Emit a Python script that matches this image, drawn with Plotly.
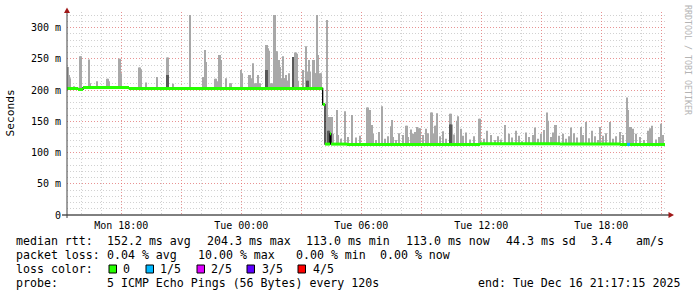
import numpy as np
import pandas as pd
import plotly.graph_objects as go

START = pd.Timestamp("2025-12-15 15:17:15")
END = pd.Timestamp("2025-12-16 21:17:15")

# ---- median rtt (ms) as steps; times = minutes after START ----
median_min = [0, 33, 48, 186, 767, 774, 789, 792, 840, 1239, 1479, 1659]
median_ms = [202.5, 201.0, 204.0, 202.5, 177.0, 113.5, 130.0, 113.5, 113.0, 114.0, 113.5, 113.0]
median_end_min = 1794
loss1_min = [1680, 1689]          # 1/5 packet loss interval

# ---- smoke (max rtt of the 5 pings, ms) ----
smoke_min = [0, 3, 6, 9, 21, 39, 42, 66, 69, 90, 120, 123, 126, 156, 159, 162, 216, 219, 222, 237,
             270, 300, 303, 318, 369, 408, 411, 414, 417, 444, 447, 450, 456, 459, 462, 477, 489, 492,
             522, 525, 546, 549, 552, 558, 564, 567, 573, 579, 597, 600, 603, 606, 612, 615, 621, 624,
             627, 630, 633, 636, 639, 645, 648, 651, 654, 657, 660, 663, 666, 678, 684, 687, 690, 693,
             708, 717, 720, 723, 726, 729, 738, 741, 744, 747, 750, 753, 759, 762,
             780, 783, 786, 789, 792, 795, 798, 810, 813, 822, 834, 843, 855, 867, 879, 900, 903, 906,
             909, 912, 915, 918, 927, 936, 945, 954, 963, 972, 975, 978, 987, 996, 1008, 1017, 1020,
             1023, 1032, 1038, 1044, 1050, 1056, 1059, 1068, 1077, 1083, 1092, 1095, 1098, 1104, 1107,
             1110, 1119, 1128, 1137, 1149, 1152, 1155, 1161, 1170, 1173, 1182, 1188, 1197, 1209, 1221,
             1236, 1239, 1251, 1260, 1272, 1284, 1293, 1302, 1314, 1326, 1335, 1347, 1356, 1365, 1377,
             1386, 1398, 1404, 1413, 1422, 1431, 1440, 1443, 1452, 1458, 1464, 1467, 1476, 1488, 1497,
             1506, 1512, 1521, 1530, 1542, 1548, 1557, 1566, 1575, 1584, 1593, 1599, 1608, 1617, 1629,
             1638, 1647, 1659, 1668, 1680, 1683, 1686, 1689, 1692, 1698, 1707, 1719, 1731, 1743, 1749,
             1755, 1767, 1776, 1782, 1788]
smoke_top = [237, 237, 224, 219, 206, 254, 254, 249, 211, 214, 218, 218, 214, 250, 250, 227, 236, 236, 233, 212,
             221, 252, 252, 210, 320, 221, 221, 264, 245, 218, 218, 214, 256, 256, 248, 219, 211, 211,
             232, 227, 224, 224, 219, 243, 211, 211, 224, 211, 272, 272, 267, 263, 211, 211, 320, 320,
             262, 262, 248, 248, 237, 219, 254, 219, 219, 224, 215, 215, 227, 253, 260, 260, 258, 215,
             232, 270, 229, 229, 248, 229, 248, 248, 227, 227, 320, 256, 227, 227,
             312, 157, 157, 157, 157, 157, 130, 168, 128, 122, 166, 125, 160, 124, 127, 172, 172, 168,
             168, 144, 144, 130, 120, 133, 174, 122, 126, 142, 152, 125, 120, 131, 128, 143, 143,
             125, 137, 130, 133, 141, 139, 139, 128, 138, 131, 164, 164, 130, 143, 143,
             163, 126, 134, 122, 162, 162, 145, 129, 151, 158, 138, 127, 132, 121, 126,
             154, 154, 122, 135, 128, 120, 126, 121, 144, 130, 124, 135, 127, 118, 132,
             125, 128, 140, 122, 130, 136, 164, 151, 125, 132, 144, 144, 127, 130, 122,
             126, 140, 131, 124, 141, 128, 149, 123, 135, 126, 120, 141, 127, 131, 149,
             122, 126, 133, 128, 188, 168, 141, 141, 141, 138, 130, 125, 120, 135, 139,
             143, 121, 125, 146, 128]
# denser (darker) part of the smoke
dark_min = [300, 303, 597, 600, 678, 720, 723, 783, 786, 1149, 1152]
dark_top = [224, 224, 232, 232, 253, 215, 215, 135, 135, 145, 145]

# ---- axis labels ----
ytick_vals = [0, 50, 100, 150, 200, 250, 300]
ytick_text = ["0", "50 m", "100 m", "150 m", "200 m", "250 m", "300 m"]
xtick_times = ["2025-12-15 18:00", "2025-12-15 21:00", "2025-12-16 00:00", "2025-12-16 03:00",
               "2025-12-16 06:00", "2025-12-16 09:00", "2025-12-16 12:00", "2025-12-16 15:00",
               "2025-12-16 18:00", "2025-12-16 21:00"]
xtick_text = ["Mon 18:00", "", "Tue 00:00", "", "Tue 06:00", "", "Tue 12:00", "", "Tue 18:00", ""]

loss_labels = ["0", "1/5", "2/5", "3/5", "4/5"]
loss_colors = ["#26ff00", "#00b8ff", "#dd00ff", "#5e00ff", "#ff0000"]

MONO = "DejaVu Sans Mono"


def t(m):
    return START + pd.to_timedelta(np.asarray(m, dtype=float), unit="m")


def med_at(m):
    idx = np.searchsorted(median_min, np.asarray(m), side="right") - 1
    return np.asarray(median_ms)[idx]


fig = go.Figure()

# smoke
sb = med_at(smoke_min)
fig.add_trace(go.Bar(x=t(smoke_min), base=sb, y=np.asarray(smoke_top) - sb,
                     width=3.3 * 60000, marker=dict(color="#a8a8a8", line=dict(width=0)),
                     showlegend=False, hoverinfo="skip"))
db = med_at(dark_min)
fig.add_trace(go.Bar(x=t(dark_min), base=db, y=np.asarray(dark_top) - db,
                     width=3.3 * 60000, marker=dict(color="#585858", line=dict(width=0)),
                     showlegend=False, hoverinfo="skip"))

# median: black step line (shows the vertical transitions)
mx = list(median_min) + [median_end_min]
my = list(median_ms) + [median_ms[-1]]
fig.add_trace(go.Scatter(x=t(mx), y=my, mode="lines", line=dict(color="#000000", width=1.3, shape="hv"),
                         showlegend=False, hoverinfo="skip"))
# median: green horizontal segments (0 loss)
gx, gy = [], []
for i in range(len(median_min)):
    a = median_min[i]
    b = median_min[i + 1] if i + 1 < len(median_min) else median_end_min
    gx += [a, b, None]
    gy += [median_ms[i], median_ms[i], None]
gxt = [None if v is None else START + pd.Timedelta(minutes=v) for v in gx]
fig.add_trace(go.Scatter(x=gxt, y=gy, mode="lines", line=dict(color=loss_colors[0], width=3),
                         connectgaps=False, showlegend=False, hoverinfo="skip"))
# 1/5 loss segment
fig.add_trace(go.Scatter(x=t(loss1_min), y=med_at(loss1_min), mode="lines",
                         line=dict(color=loss_colors[1], width=3), showlegend=False, hoverinfo="skip"))

W, H = 697, 297
L, R, T, B = 67, 667, 12, 215


def px(x):
    return (x - L) / (R - L)


def py(y):
    return (B - y) / (B - T)


grid_minor = "rgba(171,171,171,0.55)"
grid_major = "rgba(255,86,86,0.5)"

fig.update_layout(
    width=W, height=H, margin=dict(l=L, r=W - R, t=T, b=H - B),
    paper_bgcolor="#ffffff", plot_bgcolor="#ffffff",
    barmode="overlay", showlegend=False,
    font=dict(family=MONO, size=10, color="#000000"),
    xaxis=dict(type="date", range=[START, END], tickvals=xtick_times, ticktext=xtick_text,
               showgrid=True, gridcolor=grid_major, griddash="1px,2px", gridwidth=1,
               minor=dict(dtick=3600000, tick0="2025-12-15 16:00", showgrid=True,
                          gridcolor=grid_minor, griddash="1px,2px", gridwidth=1),
               showline=False, zeroline=False, ticks="", ticklabelstandoff=3,
               tickfont=dict(family=MONO, size=10)),
    yaxis=dict(range=[0, 325], tickvals=ytick_vals, ticktext=ytick_text,
               showgrid=True, gridcolor=grid_major, griddash="1px,2px", gridwidth=1,
               minor=dict(dtick=10, showgrid=True, gridcolor=grid_minor, griddash="1px,2px", gridwidth=1),
               showline=False, zeroline=False, ticks="", ticklabelstandoff=5,
               tickfont=dict(family=MONO, size=10)),
)

shapes = []
# axes
shapes.append(dict(type="line", xref="paper", yref="paper", x0=px(62), x1=px(669), y0=py(215), y1=py(215),
                   line=dict(color="#000000", width=1)))
shapes.append(dict(type="line", xref="paper", yref="paper", x0=px(67), x1=px(67), y0=py(218), y1=py(11),
                   line=dict(color="#404040", width=1)))
# arrows
arrow_col = "#a01818"
shapes.append(dict(type="path", xref="paper", yref="paper",
                   path=f"M {px(64)} {py(13)} L {px(70)} {py(13)} L {px(67)} {py(7.5)} Z",
                   fillcolor=arrow_col, line=dict(width=0)))
shapes.append(dict(type="path", xref="paper", yref="paper",
                   path=f"M {px(668.5)} {py(212)} L {px(668.5)} {py(218)} L {px(674)} {py(215)} Z",
                   fillcolor=arrow_col, line=dict(width=0)))
# loss color legend boxes
box_left = [109, 146, 197, 247, 298]
label_left = [123, 160, 211, 262, 313]
for bl, c in zip(box_left, loss_colors):
    shapes.append(dict(type="rect", xref="paper", yref="paper", x0=px(bl), x1=px(bl + 7.5),
                       y0=py(273), y1=py(265), fillcolor=c, line=dict(color="#000000", width=1)))
fig.update_layout(shapes=shapes)

ann = []


def text(x, y, s, size=11.6, color="#000000", anchor="left", angle=0):
    ann.append(dict(xref="paper", yref="paper", x=px(x), y=py(y), text=s, showarrow=False,
                    xanchor=anchor, yanchor="middle", textangle=angle, borderpad=0, borderwidth=0,
                    font=dict(family=MONO, size=size, color=color)))


text(10, 113.5, "Seconds", size=11.2, anchor="center", angle=-90)
text(688, 60, "RRDTOOL / TOBI OETIKER", size=8.3, color="#b4b4b4", anchor="center", angle=90)

LY = [241, 255, 268.5, 282.5]
line1 = [(16, "median rtt:"), (107, "152.2 ms avg"), (207, "204.3 ms max"), (306, "113.0 ms min"),
         (406, "113.0 ms now"), (506, "44.3 ms sd"), (591, "3.4"), (636, "am/s")]
line2 = [(16, "packet loss:"), (107, "0.04 % avg"), (198, "10.00 % max"), (296, "0.00 % min"),
         (380, "0.00 % now")]
for x, s in line1:
    text(x, LY[0], s)
for x, s in line2:
    text(x, LY[1], s)
text(16, LY[2], "loss color:")
for x, s in zip(label_left, loss_labels):
    text(x, LY[2], s)
text(16, LY[3], "probe:")
text(107, LY[3], "5 ICMP Echo Pings (56 Bytes) every 120s")
text(478, LY[3], "end: Tue Dec 16 21:17:15 2025")

fig.update_layout(annotations=ann)
fig.write_html("out.html")
